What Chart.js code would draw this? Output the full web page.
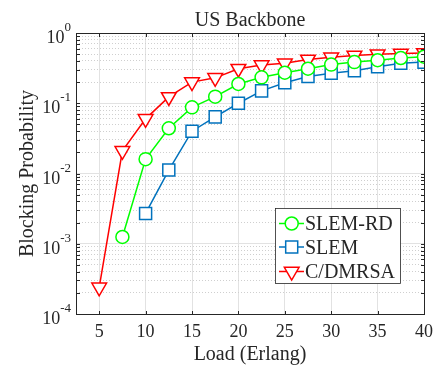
<!DOCTYPE html>
<html>
<head>
<meta charset="utf-8">
<script src="https://cdn.jsdelivr.net/npm/chart.js@4/dist/chart.umd.min.js"></script>
<style>
  html, body { margin: 0; padding: 0; background: #fff; }
  #wrap { width: 438px; height: 369px; }
</style>
</head>
<body>
<div id="wrap"><canvas id="chart"></canvas></div>
<script>
// Load values (Erlang) on the x axis
const loads = [5, 7.5, 10, 12.5, 15, 17.5, 20, 22.5, 25, 27.5, 30, 32.5, 35, 37.5, 40];
// Blocking probability per method (null = not plotted)
const slemRd = [null, 0.00125, 0.016, 0.044, 0.0875, 0.124, 0.188, 0.234, 0.272, 0.31, 0.355, 0.385, 0.41, 0.44, 0.46];
const slem   = [null, null, 0.0027, 0.0112, 0.040, 0.064, 0.10, 0.15, 0.196, 0.24, 0.267, 0.29, 0.33, 0.37, 0.385];
const cdmrsa = [0.00024, 0.021, 0.06, 0.123, 0.20, 0.23, 0.31, 0.35, 0.37, 0.42, 0.45, 0.48, 0.50, 0.51, 0.52];

const xTicks = [5, 10, 15, 20, 25, 30, 35, 40];
const yExponents = [-4, -3, -2, -1, 0];

const FONT = '"Liberation Serif", "Times New Roman", serif';
const TEXT = '#262626';

function points(arr) {
    return loads.map((x, i) => ({ x: x, y: arr[i] })).filter(p => p.y !== null);
}

function isMajor(v) {
    const e = Math.log10(v);
    return Math.abs(e - Math.round(e)) < 1e-6;
}

// draws a legend marker the same way as the dataset points
function drawMarker(ctx, style, x, y, r, color, rot) {
    ctx.save();
    ctx.translate(x, y);
    ctx.rotate((rot || 0) * Math.PI / 180);
    ctx.beginPath();
    if (style === 'circle') {
        ctx.arc(0, 0, r, 0, Math.PI * 2);
    } else if (style === 'rect') {
        const s = r * Math.SQRT1_2;
        ctx.rect(-s, -s, 2 * s, 2 * s);
    } else {
        for (let k = 0; k < 3; k++) {
            const a = k * 2 * Math.PI / 3;
            const px = Math.sin(a) * r, py = -Math.cos(a) * r;
            if (k === 0) ctx.moveTo(px, py); else ctx.lineTo(px, py);
        }
        ctx.closePath();
    }
    ctx.fillStyle = '#fff';
    ctx.fill();
    ctx.strokeStyle = color;
    ctx.lineWidth = 1.5;
    ctx.stroke();
    ctx.restore();
}

const frame = {
    id: 'frame',
    afterDraw(chart) {
        const { ctx, chartArea: a, scales } = chart;
        const xs = scales.x, ys = scales.y;
        ctx.save();

        // axes box
        const L = Math.round(a.left) + 0.5, R = Math.round(a.right) + 0.5;
        const T = Math.round(a.top) + 0.5, B = Math.round(a.bottom) + 0.5;
        ctx.strokeStyle = TEXT;
        ctx.lineWidth = 1;
        ctx.strokeRect(L, T, R - L, B - T);

        // inward tick marks
        ctx.beginPath();
        xTicks.forEach(v => {
            const px = Math.round(xs.getPixelForValue(v)) + 0.5;
            ctx.moveTo(px, B); ctx.lineTo(px, B - 3.5);
            ctx.moveTo(px, T); ctx.lineTo(px, T + 3.5);
        });
        ys.ticks.forEach(t => {
            const py = Math.round(ys.getPixelForValue(t.value)) + 0.5;
            ctx.moveTo(L, py); ctx.lineTo(L + 3.5, py);
            ctx.moveTo(R, py); ctx.lineTo(R - 3.5, py);
        });
        ctx.stroke();

        ctx.fillStyle = TEXT;

        // x tick labels
        ctx.font = '18px ' + FONT;
        ctx.textAlign = 'center';
        ctx.textBaseline = 'alphabetic';
        xTicks.forEach(v => {
            ctx.fillText(String(v), xs.getPixelForValue(v), 337);
        });

        // y tick labels, 10 with superscript exponent
        yExponents.forEach(e => {
            const py = ys.getPixelForValue(Math.pow(10, e));
            const exp = String(e).replace('-', '-');
            ctx.font = '13px ' + FONT;
            const ew = ctx.measureText(exp).width;
            const right = 71;
            ctx.textAlign = 'left';
            ctx.fillText(exp, right - ew, py - 2);
            ctx.font = '18px ' + FONT;
            ctx.textAlign = 'right';
            ctx.fillText('10', right - ew, py + 10);
        });

        // title and axis titles
        ctx.font = '20px ' + FONT;
        ctx.textAlign = 'center';
        ctx.fillText('US Backbone', (a.left + a.right) / 2, 26);
        ctx.fillText('Load (Erlang)', (a.left + a.right) / 2, 360);
        ctx.save();
        ctx.translate(33, (a.top + a.bottom) / 2);
        ctx.rotate(-Math.PI / 2);
        ctx.fillText('Blocking Probability', 0, 0);
        ctx.restore();

        // legend box
        const bx = 275.5, by = 208.5, bw = 125, bh = 75;
        ctx.fillStyle = '#fff';
        ctx.fillRect(bx, by, bw, bh);
        ctx.strokeStyle = TEXT;
        ctx.lineWidth = 0.8;
        ctx.strokeRect(bx, by, bw, bh);
        const rowsY = [223.5, 247, 271.5];
        const baseY = [230, 254, 278];
        chart.data.datasets.forEach((ds, i) => {
            const yy = rowsY[i];
            ctx.strokeStyle = ds.borderColor;
            ctx.lineWidth = 1.5;
            ctx.beginPath();
            ctx.moveTo(279, yy); ctx.lineTo(304, yy);
            ctx.stroke();
            drawMarker(ctx, ds.pointStyle, 291.7, yy, ds.pointRadius, ds.borderColor, ds.pointRotation);
            ctx.fillStyle = TEXT;
            ctx.font = '20px ' + FONT;
            ctx.textAlign = 'left';
            ctx.fillText(ds.label, 305, baseY[i]);
        });

        ctx.restore();
    }
};

const ctx = document.getElementById('chart').getContext('2d');
new Chart(ctx, {
    type: 'line',
    data: {
        datasets: [
            {
                label: 'SLEM-RD',
                data: points(slemRd),
                borderColor: '#00ff00',
                pointStyle: 'circle',
                pointRadius: 6.5,
                pointRotation: 0
            },
            {
                label: 'SLEM',
                data: points(slem),
                borderColor: '#0072bd',
                pointStyle: 'rect',
                pointRadius: 8.5,
                pointRotation: 0
            },
            {
                label: 'C/DMRSA',
                data: points(cdmrsa),
                borderColor: '#ff0000',
                pointStyle: 'triangle',
                pointRadius: 8.5,
                pointRotation: 180
            }
        ].map(ds => Object.assign(ds, {
            borderWidth: 1.5,
            pointBorderWidth: 1.5,
            pointBackgroundColor: '#ffffff',
            pointBorderColor: ds.borderColor,
            pointHoverRadius: ds.pointRadius,
            tension: 0,
            fill: false
        }))
    },
    options: {
        responsive: true,
        maintainAspectRatio: false,
        animation: false,
        events: [],
        layout: { padding: { top: 33, right: 14, left: 0, bottom: 0 } },
        plugins: {
            legend: { display: false },
            title: { display: false },
            tooltip: { enabled: false }
        },
        scales: {
            x: {
                type: 'linear',
                min: 2.5,
                max: 40,
                afterBuildTicks: axis => { axis.ticks = xTicks.map(v => ({ value: v })); },
                afterFit: axis => { axis.height = 55; },
                ticks: { display: false },
                border: { display: false },
                grid: { color: '#e2e2e2', lineWidth: 1, drawTicks: false }
            },
            y: {
                type: 'logarithmic',
                min: 1e-4,
                max: 1,
                afterBuildTicks: axis => {
                    const t = [];
                    yExponents.forEach(e => {
                        for (let m = 1; m <= 9; m++) {
                            const v = m * Math.pow(10, e);
                            if (v <= 1 + 1e-9) t.push({ value: v });
                        }
                    });
                    axis.ticks = t;
                },
                afterFit: axis => { axis.width = 76; },
                ticks: { display: false },
                border: {
                    display: false,
                    dash: c => (c.tick && !isMajor(c.tick.value)) ? [1, 2] : []
                },
                grid: {
                    color: c => (c.tick && !isMajor(c.tick.value)) ? '#cfcfcf' : '#e2e2e2',
                    lineWidth: 1,
                    drawTicks: false
                }
            }
        }
    },
    plugins: [frame]
});
</script>
</body>
</html>
